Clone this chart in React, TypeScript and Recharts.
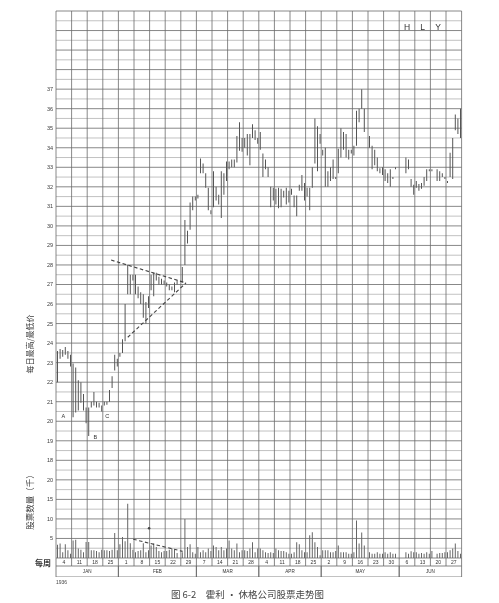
import React from "react";
import {
  ComposedChart,
  Bar,
  XAxis,
  YAxis,
  CartesianGrid,
  ReferenceLine,
  ReferenceDot,
} from "recharts";

// week-ending dates (Saturdays), 1936
const weekLabels = [
  "4", "11", "18", "25", "1", "8", "15", "22", "29", "7", "14", "21", "28",
  "4", "11", "18", "25", "2", "9", "16", "23", "30", "6", "13", "20", "27",
];
const months = ["JAN", "FEB", "MAR", "APR", "MAY", "JUN"];
const monthWeeks = [4, 5, 4, 4, 5, 4];
const priceTicks = [18, 19, 20, 21, 22, 23, 24, 25, 26, 27, 28, 29, 30, 31, 32, 33, 34, 35, 36, 37];
const volumeTicks = [5, 10, 15, 20];

type HL = [number, number] | null;

// daily low / high, six trading days per week
const janHL: HL[] = [
  [22.0, 23.6], [23.2, 23.7], [23.3, 23.65], [23.4, 23.8], [23.2, 23.6], [22.8, 23.4],
  [20.2, 22.95], [20.45, 22.75], [20.55, 22.1], [20.95, 22.0], [20.55, 21.4], [19.9, 20.7],
  [19.25, 20.7], [20.7, 21.0], [20.8, 21.5], [20.7, 21.0], [20.7, 20.95], [20.5, 20.8],
  [20.8, 21.0], [20.85, 21.0], [21.0, 21.6], [21.7, 22.3], [22.6, 23.4], [22.8, 23.2],
];
const febHL: HL[] = [
  [23.3, 23.5], [23.5, 24.2], [24.1, 26.0], [26.5, 28.0], [26.5, 27.5], [27.2, 27.5],
  [26.5, 27.5], [26.3, 26.9], [26.0, 26.6], [25.3, 26.5], [25.0, 26.1], [25.8, 26.4],
  [26.7, 27.5], [26.4, 27.6], [27.2, 27.6], [27.0, 27.4], [27.0, 27.3], [27.0, 27.2],
  [26.9, 27.1], [26.7, 27.0], [26.7, 26.9], [26.6, 27.1], [27.0, 27.2], null,
  [27.1, 27.9], [28.0, 30.3], [29.1, 29.75], [29.8, 31.2], [30.8, 31.5], [31.3, 31.5],
];
const marHL: HL[] = [
  [31.4, 31.6], [32.7, 33.45], [32.7, 33.2], [31.95, 32.7], [30.8, 31.95], [30.6, 30.8],
  [30.95, 32.8], [31.3, 32.0], [31.1, 31.6], [30.4, 32.8], [31.6, 32.7], [32.3, 33.3],
  [32.9, 33.3], [33.0, 33.4], [33.0, 33.4], [33.25, 34.6], [33.85, 35.3], [33.8, 34.5],
  [34.0, 34.5], [33.6, 34.7], [33.1, 34.7], [34.5, 35.2], [34.4, 34.9], [34.2, 34.5],
];
const aprHL: HL[] = [
  [33.9, 34.8], [32.5, 33.7], [32.9, 33.4], [32.5, 33.0], [30.95, 32.0], [31.3, 31.95],
  [31.1, 31.9], [30.9, 31.95], [30.95, 31.9], [31.45, 31.8], [31.1, 31.95], [31.2, 31.8],
  [31.6, 31.9], [30.95, 31.55], [30.5, 31.55], [31.8, 32.1], [31.8, 32.6], [31.3, 32.2],
  [31.5, 31.95], [30.8, 31.95], [31.95, 33.0], [33.2, 35.5], [32.8, 35.1], [34.2, 34.7],
];
const mayHL: HL[] = [
  [33.6, 33.9], [32.0, 34.0], [32.0, 32.8], [32.3, 33.0], [32.4, 33.4], [32.4, 32.5],
  [32.7, 33.95], [33.5, 35.0], [33.9, 34.8], [33.5, 34.7], [33.4, 33.9], [33.7, 33.9],
  [33.6, 34.1], [34.1, 35.9], [35.3, 36.0], [36.0, 37.0], [34.8, 36.0], null,
  [34.0, 34.6], [32.9, 34.1], [33.1, 33.9], [32.8, 33.5], [32.7, 32.95], [32.6, 33.0],
  [32.3, 32.9], [32.2, 32.7], [32.0, 32.9], [32.4, 32.5], [32.9, 33.0], null,
];
const junHL: HL[] = [
  null, null, [32.7, 33.5], [32.9, 33.4], [32.0, 32.4], [31.6, 32.1],
  [31.95, 32.3], [31.8, 32.15], [31.9, 32.2], [32.05, 32.5], [32.3, 32.9], [32.8, 32.9],
  [32.8, 32.9], null, [32.3, 32.9], [32.3, 32.8], [32.5, 32.7], [32.4, 32.5],
  [32.2, 32.3], [32.5, 33.75], [32.4, 34.5], [34.9, 35.7], [34.7, 35.5], [34.5, 36.0],
];

// daily volume, thousands of shares
const janVol = [
  3.4, 3.7, 1.5, 3.5, 2.0, 1.1, 4.5, 4.7, 2.4, 2.1, 1.5, 4.1,
  4.1, 2.0, 2.0, 1.8, 1.5, 2.1, 2.0, 2.0, 1.8, 2.1, 6.4, 2.0,
];
const febVol = [
  3.5, 5.4, 4.3, 13.9, 3.8, 2.1, 1.5, 1.8, 2.0, 3.8, 1.5, 2.0, 3.2, 3.7, 2.8,
  1.8, 1.5, 1.8, 1.8, 2.1, 2.4, 2.1, 1.3, null, 1.5, 10.0, 2.8, 3.5, 1.5, 1.1,
];
const marVol = [
  2.8, 1.5, 2.0, 1.5, 2.4, 1.8, 3.2, 2.8, 2.0, 2.8, 2.0, 2.4,
  4.5, 2.4, 2.0, 3.7, 1.5, 2.0, 2.0, 1.8, 2.4, 4.0, 1.5, 2.4,
];
const aprVol = [
  2.4, 2.0, 1.5, 1.3, 1.5, 1.3, 2.4, 2.0, 1.8, 1.8, 1.5, 1.1,
  1.1, 1.5, 4.0, 3.5, 2.0, 1.5, 1.5, 5.8, 6.6, 4.0, 2.8, 0.7,
];
const mayVol = [
  2.0, 2.0, 2.0, 1.5, 1.5, 1.8, 3.2, 1.5, 1.5, 1.5, 1.1, 1.1, 1.5, 9.6, 3.7,
  6.5, 3.2, null, 1.5, 1.1, 1.1, 1.5, 1.1, 1.1, 1.5, 1.1, 1.5, 1.1, 1.1, null,
];
const junVol = [
  null, null, 1.5, 1.1, 1.7, 1.5, 1.5, 1.1, 1.3, 1.1, 1.5, 1.1,
  1.8, null, 1.1, 1.3, 1.3, 1.5, 1.5, 2.0, 2.4, 3.7, 1.8, 1.1,
];

const priceRanges = [...janHL, ...febHL, ...marHL, ...aprHL, ...mayHL, ...junHL];
const volumes = [...janVol, ...febVol, ...marVol, ...aprVol, ...mayVol, ...junVol];
const rows = priceRanges.map((hl, i) => ({ x: i + 0.5, hl, vol: volumes[i] }));

const DAYS = weekLabels.length * 6;
const PLOT_W = 405.6;
const WEEK_W = PLOT_W / weekLabels.length;
const VOL_PER_DOLLAR = 5; // volume grid: 5 (thousand) per price unit
const FLOOR = 13; // price level at volume zero
const TOP = 41;

const weekCenters = weekLabels.map((_, i) => i * 6 + 3);
const weekLines = Array.from({ length: weekLabels.length + 1 }, (_, i) => i * 6);
const wholeLines = Array.from({ length: TOP - FLOOR + 1 }, (_, i) => FLOOR + i);
const halfLines = wholeLines.slice(0, -1).map((v) => v + 0.5);
const monthCenters = monthWeeks.map(
  (w, i) => (monthWeeks.slice(0, i).reduce((a, b) => a + b, 0) + w / 2) * 6
);
const axisTicks = [...volumeTicks.map((v) => FLOOR + v / VOL_PER_DOLLAR), ...priceTicks];
const fmtTick = (v: number) =>
  v < priceTicks[0] ? String(Math.round((v - FLOOR) * VOL_PER_DOLLAR)) : String(v);

const tickFont = { fontSize: 5.5, fill: "#3a3a3a", fontFamily: "Liberation Sans, Arial" };
const ink = "#555";

const WeekTick = (props: any) => {
  const { x, y, index } = props;
  const left = x - WEEK_W / 2;
  const right = x + WEEK_W / 2;
  return (
    <g>
      <line x1={left} x2={left} y1={y} y2={y + 8} stroke="#666" strokeWidth={0.8} />
      {index === weekLabels.length - 1 && (
        <line x1={right} x2={right} y1={y} y2={y + 8} stroke="#666" strokeWidth={0.8} />
      )}
      <line x1={left} x2={right} y1={y + 8} y2={y + 8} stroke="#666" strokeWidth={0.8} />
      <text x={x} y={y + 6} textAnchor="middle" fontSize={5} fill="#333" fontFamily="Liberation Sans, Arial">
        {weekLabels[index]}
      </text>
    </g>
  );
};

const MonthTick = (props: any) => {
  const { x, y, index } = props;
  const half = (monthWeeks[index] * WEEK_W) / 2;
  return (
    <g>
      <line x1={x - half} x2={x - half} y1={y} y2={y + 11} stroke="#666" strokeWidth={0.8} />
      <line x1={x + half} x2={x + half} y1={y} y2={y + 11} stroke="#666" strokeWidth={0.8} />
      <line x1={x - half} x2={x + half} y1={y + 11} y2={y + 11} stroke="#666" strokeWidth={0.8} />
      <text x={x} y={y + 7.3} textAnchor="middle" fontSize={4.6} fill="#333" fontFamily="Liberation Sans, Arial">
        {months[index]}
      </text>
    </g>
  );
};

const cjk = '"Noto Sans CJK SC", "Noto Sans", sans-serif';
const letter = { position: "center" as const, fill: "#333", fontFamily: "Liberation Sans, Arial" };

export default function App() {
  return (
    <div style={{ position: "relative", width: 491, height: 595, willChange: "transform" }}>
      <ComposedChart
        width={491}
        height={569}
        data={rows}
        margin={{ top: 3, right: 0, bottom: 0, left: 0 }}
      >
        <XAxis
          xAxisId={0}
          dataKey="x"
          type="number"
          domain={[0, DAYS]}
          ticks={weekCenters}
          interval={0}
          height={8}
          tickSize={0}
          tickMargin={0}
          axisLine={false}
          tickLine={false}
          tick={<WeekTick />}
        />
        <XAxis
          xAxisId="m"
          dataKey="x"
          type="number"
          domain={[0, DAYS]}
          ticks={monthCenters}
          interval={0}
          height={11}
          tickSize={0}
          tickMargin={0}
          axisLine={false}
          tickLine={false}
          tick={<MonthTick />}
        />
        <XAxis xAxisId="vx" dataKey="x" type="number" domain={[0, DAYS]} hide />
        <YAxis
          yAxisId={0}
          type="number"
          domain={[FLOOR, TOP]}
          ticks={axisTicks}
          interval={0}
          tickFormatter={fmtTick}
          width={48}
          tickSize={0}
          tickMargin={3}
          axisLine={false}
          tickLine={false}
          tick={tickFont}
        />
        <YAxis
          yAxisId="r"
          orientation="right"
          type="number"
          domain={[FLOOR, TOP]}
          ticks={axisTicks}
          interval={0}
          tickFormatter={fmtTick}
          width={37.4}
          tickSize={0}
          tickMargin={4}
          axisLine={false}
          tickLine={false}
          tick={{ ...tickFont, textAnchor: "start" }}
        />
        <YAxis
          yAxisId="vy"
          type="number"
          domain={[0, (TOP - FLOOR) * VOL_PER_DOLLAR]}
          hide
        />
        <CartesianGrid
          xAxisId={0}
          yAxisId={0}
          horizontalValues={halfLines}
          vertical={false}
          stroke="#a8a8a8"
          strokeWidth={0.7}
        />
        <CartesianGrid
          xAxisId={0}
          yAxisId={0}
          horizontalValues={wholeLines}
          verticalValues={weekLines}
          stroke="#6a6a6a"
          strokeWidth={0.8}
        />
        <Bar
          xAxisId={0}
          yAxisId={0}
          dataKey="hl"
          fill={ink}
          barSize={1}
          isAnimationActive={false}
        />
        <Bar
          xAxisId="vx"
          yAxisId="vy"
          dataKey="vol"
          fill="#666"
          barSize={1}
          isAnimationActive={false}
        />
        <ReferenceLine
          xAxisId={0}
          yAxisId={0}
          segment={[{ x: 21.2, y: 28.25 }, { x: 50, y: 27.08 }]}
          stroke="#444"
          strokeWidth={1.1}
          strokeDasharray="3.5 2.5"
        />
        <ReferenceLine
          xAxisId={0}
          yAxisId={0}
          segment={[{ x: 27.6, y: 24.3 }, { x: 50, y: 27.08 }]}
          stroke="#444"
          strokeWidth={1.1}
          strokeDasharray="3.5 2.5"
        />
        <ReferenceLine
          xAxisId="vx"
          yAxisId="vy"
          segment={[{ x: 29.7, y: 4.8 }, { x: 48.7, y: 1.7 }]}
          stroke="#444"
          strokeWidth={1.1}
          strokeDasharray="3.5 2.5"
        />
        <ReferenceDot xAxisId="vx" yAxisId="vy" x={35.8} y={7.6} r={1.3} fill="#444" stroke="none" />
        {["H", "L", "Y"].map((ch, i) => (
          <ReferenceDot
            key={ch}
            xAxisId={0}
            yAxisId={0}
            x={weekCenters[22 + i]}
            y={40.2}
            r={0}
            label={{ ...letter, value: ch, fontSize: 8.5 }}
          />
        ))}
        <ReferenceDot xAxisId={0} yAxisId={0} x={2.8} y={20.26} r={0}
          label={{ ...letter, value: "A", fontSize: 5.5 }} />
        <ReferenceDot xAxisId={0} yAxisId={0} x={15.1} y={19.18} r={0}
          label={{ ...letter, value: "B", fontSize: 5.5 }} />
        <ReferenceDot xAxisId={0} yAxisId={0} x={19.7} y={20.26} r={0}
          label={{ ...letter, value: "C", fontSize: 5.5 }} />
      </ComposedChart>

      <div
        style={{
          position: "absolute", left: 21, top: 336, transform: "translate(-50%, -50%) rotate(-90deg)",
          whiteSpace: "nowrap", fontFamily: cjk, fontSize: 8, color: "#3a3a3a",
        }}
      >
        每日最高/最低价
      </div>
      <div
        style={{
          position: "absolute", left: 20.5, top: 492, transform: "translate(-50%, -50%) rotate(-90deg)",
          whiteSpace: "nowrap", fontFamily: cjk, fontSize: 8.5, color: "#3a3a3a",
        }}
      >
        股票数量（千）
      </div>
      <div
        style={{
          position: "absolute", left: 27, top: 554, transform: "translateY(-50%)",
          whiteSpace: "nowrap", fontFamily: cjk, fontSize: 8, fontWeight: 600, color: "#333",
        }}
      >
        每周
      </div>
      <div
        style={{
          position: "absolute", left: 48, top: 573.7, transform: "translateY(-50%)",
          fontFamily: "Liberation Sans, Arial", fontSize: 5, color: "#444",
        }}
      >
        1936
      </div>
      <div
        style={{
          position: "absolute", left: 239.5, top: 586, transform: "translate(-50%, -50%)",
          whiteSpace: "nowrap", fontFamily: cjk, fontSize: 9.5, color: "#444",
        }}
      >
        图 6-2　霍利 · 休格公司股票走势图
      </div>
    </div>
  );
}
